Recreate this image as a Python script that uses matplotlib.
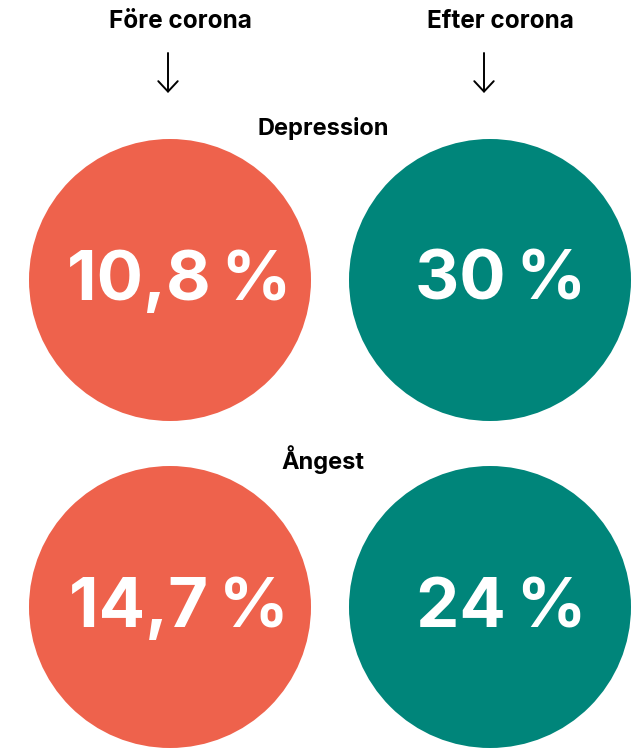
import matplotlib
matplotlib.use("Agg")
from matplotlib import pyplot as plt
from matplotlib.patches import Circle

# data
kategorier = ["Depression", "Ångest"]
fore_corona = [10.8, 14.7]
efter_corona = [30, 24]
kolumner = ["Före corona", "Efter corona"]
farger = ["#EE624C", "#00857A"]

plt.rcParams['font.family'] = ['Inter', 'DejaVu Sans']

def fmt(v):
    s = f"{v:g}".replace(".", ",")
    return s + "\u2009%"

fig = plt.figure(figsize=(6.4, 7.49), dpi=100)
ax = fig.add_axes([0, 0, 1, 1])
ax.set_xlim(0, 640)
ax.set_ylim(749, 0)
ax.axis("off")

col_x = [170, 490]
head_x = [180, 500]
arrow_x = [168, 484]
row_y = [280, 607]
rubrik_y = [128, 460]
r = 141

for j, namn in enumerate(kolumner):
    ax.text(head_x[j], 22, namn, ha="center", va="center", fontsize=17.5,
            fontweight="bold", color="black")
    ax.annotate("", xy=(arrow_x[j], 93), xytext=(arrow_x[j], 53),
                arrowprops=dict(arrowstyle="->,head_length=0.75,head_width=0.7",
                                lw=1.4, color="black", shrinkA=0, shrinkB=0))

for i, kat in enumerate(kategorier):
    ax.text(323, rubrik_y[i], kat, ha="center", va="center", fontsize=17,
            fontweight="bold", color="black")
    for j, v in enumerate([fore_corona[i], efter_corona[i]]):
        ax.add_patch(Circle((col_x[j], row_y[i]), r, color=farger[j], lw=0))
        ax.text(col_x[j] + 9 + 2 * j, row_y[i] + 2, fmt(v), ha="center", va="center",
                fontsize=49.5, fontweight="bold", color="white")

fig.savefig("out.png", dpi=100)
